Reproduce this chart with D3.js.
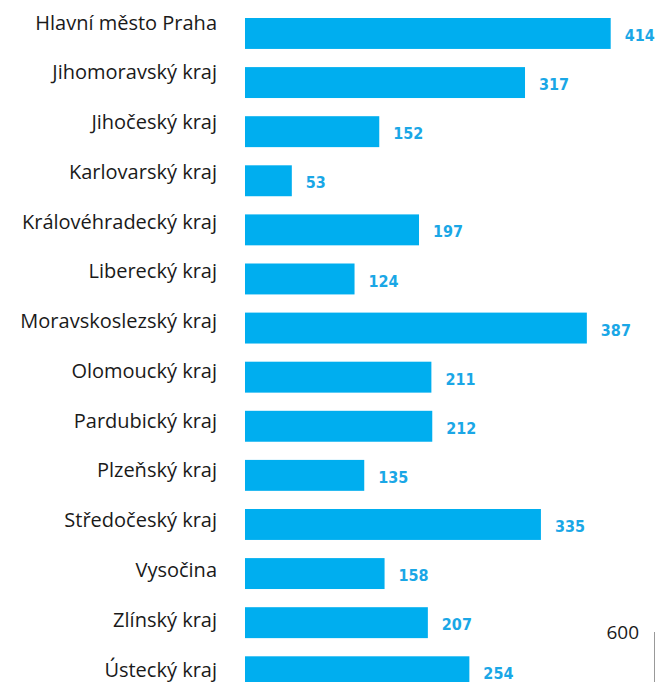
<!DOCTYPE html>
<html>
<head>
<meta charset="utf-8">
<script src="https://cdn.jsdelivr.net/npm/d3@7"></script>
<style>
  body { margin: 0; background: #fff; }
  svg { display: block; }
</style>
</head>
<body>
<div id="chart"></div>
<script>
var regions = [
  'Hlavní město Praha', 'Jihomoravský kraj', 'Jihočeský kraj',
  'Karlovarský kraj', 'Královéhradecký kraj', 'Liberecký kraj',
  'Moravskoslezský kraj', 'Olomoucký kraj', 'Pardubický kraj',
  'Plzeňský kraj', 'Středočeský kraj', 'Vysočina', 'Zlínský kraj',
  'Ústecký kraj'
];
var counts = [ 414, 317, 152, 53, 197, 124, 387, 211, 212, 135, 335, 158, 207, 254 ];
var axisMax = 600;

var width = 655,
    height = 682,
    step = 49.1,
    padding = 0.37,
    margin = { top: 18, left: 245 };

var blue = '#00aeef';

var svg = d3.select( '#chart' )
  .append( 'svg' )
    .attr( 'width', width )
    .attr( 'height', height );

var x = d3.scaleLinear()
    .domain( [ 0, axisMax ] )
    .range( [ margin.left, margin.left + 530 ] );

var y = d3.scaleBand()
    .domain( regions )
    .range( [ margin.top, margin.top + step * ( regions.length - padding ) ] )
    .paddingInner( padding )
    .paddingOuter( 0 );

// the category labels sit on a slightly looser grid than the bars
var yLabel = d3.scalePoint()
    .domain( regions )
    .range( [ 29.5, 676.5 ] );

var data = regions.map( function( r, i ) { return { name: r, value: counts[ i ] }; } );

svg.selectAll( '.bar' )
    .data( data )
  .enter().append( 'rect' )
    .attr( 'class', 'bar' )
    .attr( 'x', x( 0 ) )
    .attr( 'y', function( d ) { return y( d.name ); } )
    .attr( 'width', function( d ) { return x( d.value ) - x( 0 ); } )
    .attr( 'height', y.bandwidth() )
    .attr( 'fill', blue );

// category labels
svg.selectAll( '.cat' )
    .data( data )
  .enter().append( 'text' )
    .attr( 'class', 'cat' )
    .attr( 'x', 217 )
    .attr( 'y', function( d ) { return yLabel( d.name ); } )
    .attr( 'text-anchor', 'end' )
    .style( 'font-family', '"Open Sans", sans-serif' )
    .style( 'font-size', '20px' )
    .style( 'fill', '#1a1a1a' )
    .text( function( d ) { return d.name; } );

// value labels
svg.selectAll( '.val' )
    .data( data )
  .enter().append( 'text' )
    .attr( 'class', 'val' )
    .attr( 'x', function( d ) { return x( d.value ) + 14; } )
    .attr( 'y', function( d ) { return y( d.name ) + 23; } )
    .style( 'font-family', '"DejaVu Sans Condensed", "DejaVu Sans", sans-serif' )
    .style( 'font-stretch', 'condensed' )
    .style( 'font-weight', 'bold' )
    .style( 'font-size', '16px' )
    .style( 'fill', '#1aa7e6' )
    .text( function( d ) { return d.value; } );

// partial axis tick visible at the bottom right
svg.append( 'text' )
    .attr( 'x', 639 )
    .attr( 'y', 639 )
    .attr( 'text-anchor', 'end' )
    .style( 'font-family', '"Open Sans", sans-serif' )
    .style( 'font-size', '19px' )
    .style( 'fill', '#1a1a1a' )
    .text( axisMax );

svg.append( 'line' )
    .attr( 'x1', 654.5 )
    .attr( 'x2', 654.5 )
    .attr( 'y1', 632 )
    .attr( 'y2', height )
    .style( 'stroke', '#999' )
    .attr( 'stroke-width', 1 );
</script>
</body>
</html>
